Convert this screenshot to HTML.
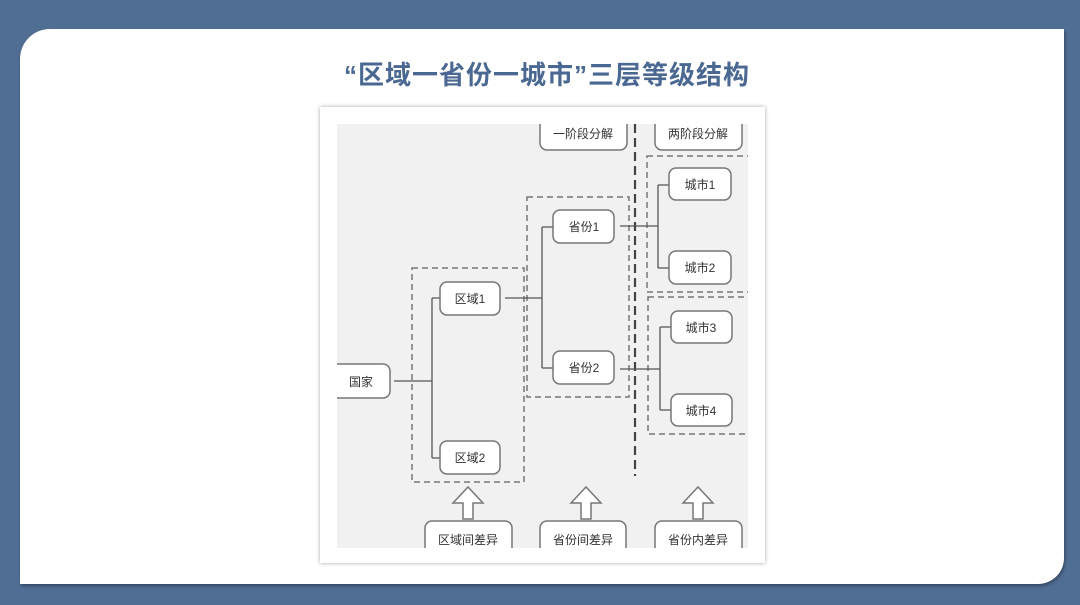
<!DOCTYPE html>
<html><head><meta charset="utf-8"><style>
html,body{margin:0;padding:0}
body{width:1080px;height:605px;background:#506e94;position:relative;overflow:hidden;font-family:"Liberation Sans","Noto Sans CJK SC",sans-serif}
.panel{position:absolute;left:20px;top:29px;width:1044px;height:555px;background:#fff;border-radius:30px 0 26px 0;box-shadow:1px 2px 3px rgba(0,0,0,.35)}
.title{position:absolute;left:0;width:1094px;top:55px;text-align:center;font-size:26px;font-weight:bold;color:#4a6891;letter-spacing:1px}
.frame{position:absolute;left:320px;top:107px;width:445px;height:456px;background:#fff;box-shadow:0 0 4px rgba(0,0,0,.35)}
svg{position:absolute;left:0;top:0}
</style></head><body>
<div class="panel"></div>
<div class="title">“区域一省份一城市”三层等级结构</div>
<div class="frame"></div>
<svg width="1080" height="605" font-family="Liberation Sans, Noto Sans CJK SC, sans-serif" font-size="12" fill="#333">
<defs><clipPath id="c"><rect x="337" y="124" width="411" height="424"/></clipPath></defs>
<g clip-path="url(#c)">
<rect x="337" y="124" width="411" height="424" fill="#f1f1f1"/>
<g fill="none" stroke="#777" stroke-width="1.5" stroke-dasharray="6,4">
<rect x="412" y="268" width="112" height="214"/>
<rect x="527" y="197" width="102" height="200"/>
<rect x="647" y="156" width="110" height="136"/>
<rect x="648" y="297" width="110" height="137"/>
</g>
<line x1="635" y1="124" x2="635" y2="476" stroke="#444" stroke-width="2.2" stroke-dasharray="9,5"/>
<g fill="none" stroke="#555" stroke-width="1.3">
<path d="M394 381H432M432 298V458M432 298H440M432 458H440"/>
<path d="M505 298H542M542 227V368M542 227H553M542 368H553"/>
<path d="M620 226H658M658 185V268M658 185H669M658 268H669"/>
<path d="M620 369H660M660 327V410M660 327H671M660 410H671"/>
</g>
<g fill="#fff" stroke="#777" stroke-width="1.5">
<rect x="540" y="112" width="87" height="38" rx="7"/>
<rect x="655" y="112" width="87" height="38" rx="7"/>
<rect x="669" y="168" width="62" height="32" rx="7"/>
<rect x="669" y="251" width="62" height="33" rx="7"/>
<rect x="671" y="311" width="61" height="32" rx="7"/>
<rect x="671" y="394" width="61" height="32" rx="7"/>
<rect x="553" y="210" width="61" height="33" rx="7"/>
<rect x="553" y="351" width="61" height="33" rx="7"/>
<rect x="440" y="282" width="60" height="33" rx="7"/>
<rect x="440" y="441" width="60" height="33" rx="7"/>
<rect x="326" y="364" width="64" height="34" rx="7"/>
<rect x="425" y="521" width="87" height="40" rx="7"/>
<rect x="540" y="521" width="86" height="40" rx="7"/>
<rect x="655" y="521" width="87" height="40" rx="7"/>
<path d="M463 519V503H453L468 487L483 503H473V519Z"/>
<path d="M581 519V503H571L586 487L601 503H591V519Z"/>
<path d="M693 519V503H683L698 487L713 503H703V519Z"/>
</g>
<g text-anchor="middle">
<text x="583" y="138">一阶段分解</text>
<text x="698" y="138">两阶段分解</text>
<text x="700" y="189">城市1</text>
<text x="700" y="272">城市2</text>
<text x="701" y="332">城市3</text>
<text x="701" y="415">城市4</text>
<text x="584" y="231">省份1</text>
<text x="584" y="372">省份2</text>
<text x="470" y="303">区域1</text>
<text x="470" y="462">区域2</text>
<text x="361" y="386">国家</text>
<text x="468" y="544">区域间差异</text>
<text x="583" y="544">省份间差异</text>
<text x="698" y="544">省份内差异</text>
</g>
</g>
</svg>
</body></html>
